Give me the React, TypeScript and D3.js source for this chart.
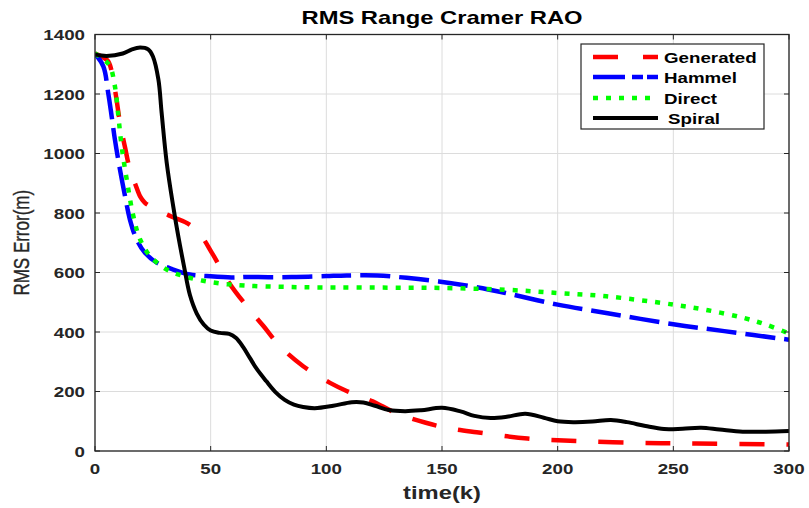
import React from "react";
import * as d3 from "d3";

const W = 809;
const H = 508;
const M = { left: 95, right: 789, top: 34.5, bottom: 451 };

const xTicks = [0, 50, 100, 150, 200, 250, 300];
const yTicks = [0, 200, 400, 600, 800, 1000, 1200, 1400];

const seriesNames = ["Generated", "Hammel", "Direct", "Spiral"];

const tGenerated = [0, 3, 5.7, 8.6, 10.8, 13, 15.1, 17.5, 19.5, 21.5, 23.8, 28, 34, 40, 45, 51, 58, 65.6, 72.8, 80, 90, 101.6, 109, 120, 130, 143, 152, 165, 187, 210, 236, 260, 300];
const generated = [1336, 1325, 1310, 1215, 1103, 1020, 946, 895, 856, 835, 823, 806, 785, 765, 733, 660, 565, 487, 420, 352, 285, 229, 201, 167, 128, 95, 78, 63, 42, 33, 27, 25, 22];

const tHammel = [0, 3.6, 5.7, 7.2, 8.6, 10.8, 13, 15.1, 18, 21.6, 26.7, 33.8, 41, 48.3, 59, 65.6, 75, 87, 100, 108.8, 122, 134.7, 148.6, 163, 177.5, 200, 221, 250, 272, 300];
const hammel = [1336, 1293, 1204, 1125, 1047, 946, 856, 778, 711, 666, 633, 610, 593, 588, 583, 585, 584, 585, 588, 590, 590, 582, 570, 553, 531, 492, 464, 426, 403, 374];

const tDirect = [0, 4, 6.5, 8.6, 10.1, 11.5, 13.7, 16.6, 19.5, 23.8, 31, 38.2, 46.8, 55.5, 65, 80, 95, 131, 150, 177.5, 200, 221, 250, 265, 280, 290, 300];
const direct = [1336, 1315, 1293, 1226, 1125, 1025, 913, 789, 711, 655, 610, 588, 572, 562, 556, 552, 550, 549, 548, 542, 531, 520, 492, 473, 448, 425, 395];

const tSpiral = [0, 5, 12, 16, 19.5, 23, 25, 27.4, 28.8, 31, 33.8, 36, 38.5, 41, 44, 47, 50, 54, 58, 61, 64, 67, 70, 74, 78, 82, 86, 90, 95, 103, 111, 116, 121, 127, 134, 141, 150, 158, 164, 171, 178, 186, 194, 200, 207, 215, 223, 230, 238, 246, 254, 262, 270, 280, 290, 300];
const spiral = [1333, 1328, 1336, 1350, 1356, 1350, 1327, 1249, 1137, 969, 823, 722, 620, 525, 462, 425, 405, 397, 394, 380, 350, 312, 275, 235, 198, 172, 156, 148, 144, 152, 164, 163, 152, 138, 134, 137, 145, 133, 118, 111, 115, 125, 112, 100, 97, 99, 104, 97, 84, 74, 75, 78, 72, 65, 65, 67];

const colors = ["#ff0000", "#0000ff", "#00ff00", "#000000"];
const dashes = ["25,22", "30,9", "5,8", null];
const legendDashes = ["25,25", "32,7,11,4", "5,8", null];
const widths = [4.5, 4.5, 4.5, 4];

const SX = 1.25;
const AX = "#262626";

function T({ x, y, anchor = "middle", size, weight = "bold", children, fill = AX }: any) {
  return (
    <text
      transform={`translate(${x},${y}) scale(${SX},1)`}
      textAnchor={anchor}
      fontSize={size}
      fontWeight={weight}
      fill={fill}
      fontFamily="'Liberation Sans', Arial, sans-serif"
    >
      {children}
    </text>
  );
}

export default function App() {
  const x = d3.scaleLinear().domain([0, 300]).range([M.left, M.right]);
  const y = d3.scaleLinear().domain([0, 1400]).range([M.bottom, M.top]);

  const data = [
    [tGenerated, generated],
    [tHammel, hammel],
    [tDirect, direct],
    [tSpiral, spiral],
  ];

  const line = d3
    .line<[number, number]>()
    .x((d) => x(d[0]))
    .y((d) => y(d[1]))
    .curve(d3.curveCatmullRom.alpha(0.5));

  const tickLen = 5;
  const legend = { x0: 581, y0: 44, x1: 764, y1: 129 };
  const rowY = [57, 77, 98, 118];

  return (
    <svg width={W} height={H} style={{ position: "absolute", left: 0, top: 0, background: "#fff" }}>
      <rect x={0} y={0} width={W} height={H} fill="#fff" />
      <defs>
        <clipPath id="plotclip">
          <rect x={M.left} y={M.top} width={M.right - M.left} height={M.bottom - M.top} />
        </clipPath>
      </defs>
      {xTicks.map((t) => (
        <line key={"gx" + t} x1={x(t)} x2={x(t)} y1={M.top} y2={M.bottom} stroke="#dcdcdc" strokeWidth={1} />
      ))}
      {yTicks.map((t) => (
        <line key={"gy" + t} x1={M.left} x2={M.right} y1={y(t)} y2={y(t)} stroke="#dcdcdc" strokeWidth={1} />
      ))}
      <g clipPath="url(#plotclip)">
        {data.map(([ts, vs], i) => (
          <path
            key={seriesNames[i]}
            d={line(ts.map((t, j) => [t, vs[j]] as [number, number])) || ""}
            fill="none"
            stroke={colors[i]}
            strokeWidth={widths[i]}
            strokeDasharray={dashes[i] || undefined}
            strokeLinejoin="round"
          />
        ))}
      </g>
      <rect x={M.left} y={M.top} width={M.right - M.left} height={M.bottom - M.top} fill="none" stroke={AX} strokeWidth={1.3} />
      {xTicks.map((t) => (
        <g key={"tx" + t}>
          <line x1={x(t)} x2={x(t)} y1={M.bottom} y2={M.bottom - tickLen} stroke={AX} />
          <line x1={x(t)} x2={x(t)} y1={M.top} y2={M.top + tickLen} stroke={AX} />
          <T x={x(t)} y={474} size={15}>{t}</T>
        </g>
      ))}
      {yTicks.map((t) => (
        <g key={"ty" + t}>
          <line x1={M.left} x2={M.left + tickLen} y1={y(t)} y2={y(t)} stroke={AX} />
          <line x1={M.right} x2={M.right - tickLen} y1={y(t)} y2={y(t)} stroke={AX} />
          <T x={85} y={y(t) + 5.5} anchor="end" size={15}>{t}</T>
        </g>
      ))}
      <T x={(M.left + M.right) / 2} y={24} size={19} fill="#000">RMS Range Cramer RAO</T>
      <T x={(M.left + M.right) / 2} y={499} size={19}>time(k)</T>
      <text
        transform={`translate(29,${(M.top + M.bottom) / 2}) rotate(-90) scale(1,${SX})`}
        textAnchor="middle"
        fontSize={17}
        fill={AX}
        stroke={AX}
        strokeWidth={0.3}
        fontFamily="'Liberation Sans', Arial, sans-serif"
      >
        RMS Error(m)
      </text>
      <rect x={legend.x0} y={legend.y0} width={legend.x1 - legend.x0} height={legend.y1 - legend.y0} fill="#fff" stroke={AX} strokeWidth={1.2} />
      {seriesNames.map((n, i) => (
        <g key={"lg" + n}>
          <line
            x1={593}
            x2={658}
            y1={rowY[i]}
            y2={rowY[i]}
            stroke={colors[i]}
            strokeWidth={widths[i]}
            strokeDasharray={legendDashes[i] || undefined}
          />
          <T x={i === 3 ? 668 : 664} y={rowY[i] + 5.5} anchor="start" size={15} fill="#000">{n}</T>
        </g>
      ))}
    </svg>
  );
}
